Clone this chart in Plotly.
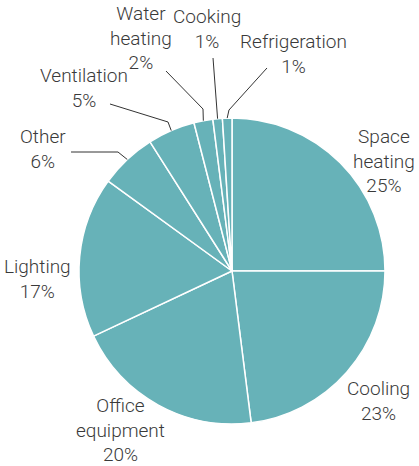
import math
import plotly.graph_objects as go

categories = ["Space heating", "Cooling", "Office equipment", "Lighting", "Other",
              "Ventilation", "Water heating", "Cooking", "Refrigeration"]
values = [25, 23, 20, 17, 6, 5, 2, 1, 1]
label_texts = ["Space<br>heating<br>25%", "Cooling<br>23%", "Office<br>equipment<br>20%",
               "Lighting<br>17%", "Other<br>6%", "Ventilation<br>5%",
               "Water<br>heating<br>2%", "Cooking<br>1%", "Refrigeration<br>1%"]

W, H = 419, 466
CX, CY, R = 232, 271, 153
COLOR = "#67B2B8"
FONT = "Roboto, sans-serif"

# label centres (px)
label_pos = [(384, 161), (378, 401), (120, 430), (37, 279), (43, 149),
             (84, 88), (141, 38), (207, 29), (293, 54)]
# leader line waypoints (px) for small slices, ending at slice mid-angle on the rim
leaders = {
    4: [(71, 152), (118, 152)],
    5: [(110, 104), (168, 122)],
    6: [(166, 71), (203, 109)],
    7: [(213, 58)],
    8: [(267, 68), (229, 110)],
}

def px(x, y):
    return x / W, 1 - y / H

fig = go.Figure(go.Pie(
    labels=categories, values=values, sort=False, direction="clockwise",
    rotation=0, textinfo="none", hoverinfo="label+percent",
    marker=dict(colors=[COLOR] * len(values), line=dict(color="white", width=1.5)),
    domain=dict(x=[(CX - R) / W, (CX + R) / W], y=[(H - CY - R) / H, (H - CY + R) / H]),
    showlegend=False,
))

total = sum(values)
cum = 0
mids = []
for v in values:
    mids.append((cum + v / 2) / total * 2 * math.pi)
    cum += v

annotations = []
for i, t in enumerate(label_texts):
    x, y = px(*label_pos[i])
    annotations.append(dict(x=x, y=y, xref="paper", yref="paper", text=t, showarrow=False,
                            xanchor="center", yanchor="middle", align="center",
                            font=dict(family=FONT, size=19, color="#3a3a3a", weight=300)))

shapes = []
for i, pts in leaders.items():
    a = mids[i]
    rim = (CX + R * math.sin(a), CY - R * math.cos(a))
    allpts = pts + [rim]
    path = "M " + " L ".join(f"{px(x, y)[0]:.4f},{px(x, y)[1]:.4f}" for x, y in allpts)
    shapes.append(dict(type="path", path=path, xref="paper", yref="paper",
                       line=dict(color="#333333", width=1)))

fig.update_layout(width=W, height=H, margin=dict(l=0, r=0, t=0, b=0),
                  paper_bgcolor="white", plot_bgcolor="white",
                  annotations=annotations, shapes=shapes)
fig.write_html("out.html", config={"displayModeBar": False},
               post_script="document.body.style.margin='0';document.body.style.overflow='hidden';")
